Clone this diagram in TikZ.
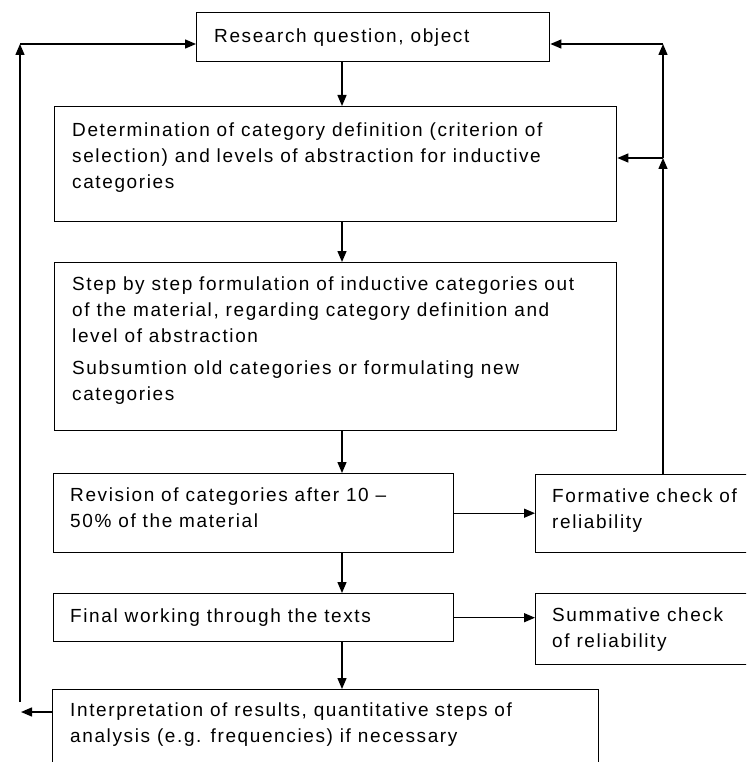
\documentclass[tikz,border=0pt]{standalone}
\usepackage{fontspec}
\newfontfamily\diafont[LetterSpace=8.5]{Liberation Sans}
\usetikzlibrary{arrows.meta}
\begin{document}
\begin{tikzpicture}[x=1pt,y=1pt,
  box/.style={draw, line width=1.4pt, rectangle, inner sep=0pt, anchor=north west},
  txt/.style={anchor=north west, inner sep=0pt, align=left, text=black,
    font=\diafont\fontsize{19}{25.8}\selectfont},
  arr/.style={line width=1.4pt, -{Triangle[length=11pt,width=9pt]}}]
\useasboundingbox (0,0) rectangle (746,-762);
\clip (0,0) rectangle (746,-762);
% boxes
\node[box, minimum width=353pt, minimum height=49pt] (b1) at (196,-12) {};
\node[box, minimum width=562pt, minimum height=115pt] (b2) at (54,-106) {};
\node[box, minimum width=562pt, minimum height=168pt] (b3) at (54,-262) {};
\node[box, minimum width=400pt, minimum height=79pt] (rev) at (53,-473) {};
\node[box, minimum width=225pt, minimum height=78pt] (form) at (535,-474) {};
\node[box, minimum width=400pt, minimum height=48pt] (final) at (53,-593) {};
\node[box, minimum width=225pt, minimum height=71pt] (summ) at (535,-593) {};
\node[box, minimum width=546pt, minimum height=120pt] (interp) at (52,-689) {};
% texts
\node[txt] (t1) at (214,-29) {Research question, object};
\node[txt] (t2) at (72,-123) {Determination of category definition (criterion of\\selection) and levels of abstraction for inductive\\categories};
\node[txt] (t3) at (72,-277) {Step by step formulation of inductive categories out\\of the material, regarding category definition and\\level of abstraction\\[6pt]Subsumtion old categories or formulating new\\categories};
\node[txt] (trev) at (70,-488) {Revision of categories after 10 \textendash\\50\% of the material};
\node[txt] (tform) at (552,-489) {Formative check of\\reliability};
\node[txt] (tfinal) at (70,-609) {Final working through the texts};
\node[txt] (tsumm) at (552,-608) {Summative check\\of reliability};
\node[txt] (tinterp) at (70,-703) {Interpretation of results, quantitative steps of\\analysis (e.g. frequencies) if necessary};
% helper coordinates
\coordinate (axis) at (342,0);
\coordinate (j1) at (663,-44);
\coordinate (j2) at (663,-158);
\coordinate (l1) at (20,-44);
\coordinate (l2) at (20,-702);
\coordinate (l3) at (21,-712);
% main flow
\draw[arr] (b1.south -| axis) -- (b2.north -| axis);
\draw[arr] (b2.south -| axis) -- (b3.north -| axis);
\draw[arr] (b3.south -| axis) -- (rev.north -| axis);
\draw[arr] (rev.south -| axis) -- (final.north -| axis);
\draw[arr] (final.south -| axis) -- (interp.north -| axis);
% side checks
\draw[arr] (rev.east) -- (rev.east -| form.west);
\draw[arr] (final.east) -- (final.east -| summ.west);
% feedback right
\draw[arr] (form.north -| j2) -- (j2);
\draw[arr] (j2) -- (j1);
\draw[arr] (j2) -- (j2 -| b2.east);
\draw[arr] (j1) -- (j1 -| b1.east);
% feedback left
\draw[arr] (l2) -- (l1);
\draw[arr] (l1) -- (l1 -| b1.west);
\draw[arr] (l3 -| interp.west) -- (l3);
\end{tikzpicture}
\end{document}
